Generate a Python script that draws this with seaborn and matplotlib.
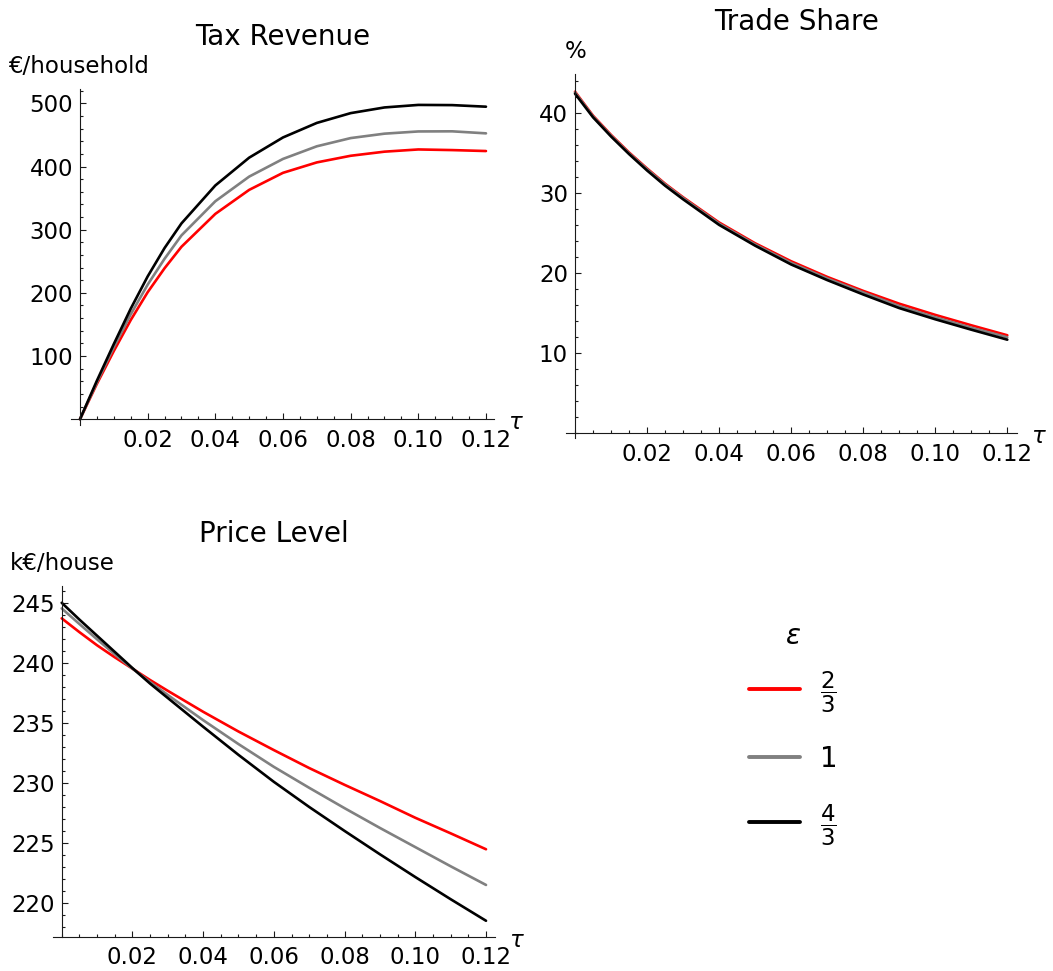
import numpy as np
import pandas as pd
import matplotlib
matplotlib.use("Agg")
import matplotlib.pyplot as plt
from matplotlib.lines import Line2D
from matplotlib.ticker import FixedLocator, MultipleLocator
import seaborn as sns

# Import tariff rate (shared by all panels)
tau = [0.0, 0.005, 0.01, 0.015, 0.02, 0.025, 0.03, 0.04, 0.05, 0.06,
       0.07, 0.08, 0.09, 0.10, 0.11, 0.12]

# Elasticity cases
eps_labels = ["2/3", "1", "4/3"]
eps_tex = [r"$\dfrac{2}{3}$", "1", r"$\dfrac{4}{3}$"]
eps_colors = ["#ff0000", "#808080", "#000000"]

# Tax revenue, EUR per household
revenue_23 = [0, 56, 108, 157, 201, 239, 273, 325, 363, 390,
              406.5, 417, 423.5, 427, 426, 424.5]
revenue_1 = [0, 58.5, 114, 166, 213, 254, 291, 345, 384, 412,
             432, 445, 452, 455.5, 455.7, 452.5]
revenue_43 = [0, 61, 119, 175, 226, 271, 310, 370, 414, 446,
              469, 484.5, 493.5, 497.5, 497.2, 494.7]

# Trade share, percent
trade_23 = [42.7, 39.7, 37.3, 35.1, 33.1, 31.2, 29.5, 26.35, 23.75, 21.5,
            19.55, 17.8, 16.2, 14.8, 13.5, 12.25]
trade_1 = [42.6, 39.6, 37.2, 35.0, 33.0, 31.1, 29.4, 26.2, 23.6, 21.3,
           19.35, 17.6, 15.9, 14.5, 13.2, 12.0]
trade_43 = [42.45, 39.5, 37.1, 34.9, 32.85, 30.95, 29.25, 26.05, 23.45, 21.1,
            19.15, 17.35, 15.65, 14.25, 12.95, 11.7]

# House price level, kEUR per house
price_23 = [243.75, 242.6, 241.5, 240.5, 239.55, 238.6, 237.7, 235.95,
            234.3, 232.75, 231.25, 229.85, 228.5, 227.1, 225.8, 224.47]
price_1 = [244.58, 243.28, 242.0, 240.75, 239.55, 238.43, 237.35, 235.25,
           233.25, 231.35, 229.6, 227.9, 226.25, 224.65, 223.05, 221.49]
price_43 = [245.05, 243.65, 242.3, 240.95, 239.6, 238.3, 237.1, 234.7,
            232.35, 230.1, 228.0, 226.0, 224.05, 222.15, 220.3, 218.5]

x_major = [0.02, 0.04, 0.06, 0.08, 0.10, 0.12]
x_major_labels = ["0.02", "0.04", "0.06", "0.08", "0.10", "0.12"]

sns.set_style("white")
plt.rcParams["font.family"] = ["DejaVu Sans"]
plt.rcParams["mathtext.fontset"] = "dejavusans"
for key in ("text.color", "axes.labelcolor", "xtick.color", "ytick.color",
            "axes.edgecolor"):
    plt.rcParams[key] = "black"

W, H = 1053, 971
fig = plt.figure(figsize=(W / 100, H / 100), dpi=100)


def px_rect(left, top, right, bottom):
    return [left / W, 1 - bottom / H, (right - left) / W, (bottom - top) / H]


def long_form(series):
    frames = [pd.DataFrame({"tau": tau, "value": vals, "eps": lab})
              for lab, vals in zip(eps_labels, series)]
    return pd.concat(frames, ignore_index=True)


palette = dict(zip(eps_labels, eps_colors))


def draw_panel(rect, series, xlim, ylim, y_major, y_minor, cross_y,
               title, title_x=0.5):
    ax = fig.add_axes(rect)
    sns.lineplot(data=long_form(series), x="tau", y="value", hue="eps",
                 hue_order=eps_labels, palette=palette, linewidth=1.9,
                 estimator=None, legend=False, ax=ax)
    ax.set_xlim(*xlim)
    ax.set_ylim(*ylim)
    ax.set_xlabel("")
    ax.set_ylabel("")
    for side in ("top", "right"):
        ax.spines[side].set_visible(False)
    ax.spines["left"].set_position(("data", 0))
    ax.spines["bottom"].set_position(("data", cross_y))
    for side in ("left", "bottom"):
        ax.spines[side].set_color("#1a1a1a")
        ax.spines[side].set_linewidth(0.8)
    ax.xaxis.set_major_locator(FixedLocator(x_major))
    ax.set_xticklabels(x_major_labels)
    ax.xaxis.set_minor_locator(MultipleLocator(0.005))
    ax.yaxis.set_major_locator(FixedLocator(y_major))
    ax.set_yticklabels([f"{v:g}" for v in y_major])
    ax.yaxis.set_minor_locator(MultipleLocator(y_minor))
    ax.tick_params(which="both", direction="in", color="#1a1a1a",
                   bottom=True, left=True, top=False, right=False,
                   width=0.8, labelsize=16.5, labelcolor="black")
    ax.tick_params(which="major", length=4.5)
    ax.tick_params(which="minor", length=2.5)
    ax.tick_params(axis="x", pad=7)
    ax.tick_params(axis="y", pad=5)
    ax.set_title(title, fontsize=20, pad=31.5, x=title_x, color="black")
    ax.annotate(r"$\tau$", xy=(1, cross_y), xycoords=ax.get_yaxis_transform(),
                xytext=(10, -2.5), textcoords="offset points",
                ha="left", va="center", fontsize=16.5)
    return ax


draw_panel(px_rect(71, 89, 494, 425),
           [revenue_23, revenue_1, revenue_43],
           (-0.00266, 0.12237), (-9.2, 522.7),
           [100, 200, 300, 400, 500], 20, 0, "Tax Revenue")

draw_panel(px_rect(566, 74, 1016.7, 438),
           [trade_23, trade_1, trade_43],
           (-0.0025, 0.12261), (-0.59, 44.91),
           [10, 20, 30, 40], 2, 0, "Trade Share", title_x=0.5125)

draw_panel(px_rect(52.7, 586, 495, 936.7),
           [price_23, price_1, price_43],
           (-0.002545, 0.12254), (217.17, 246.45),
           [220, 225, 230, 235, 240, 245], 1, 217.17, "Price Level")

# Axis unit labels
fig.text(8 / W, 1 - 73 / H, "€/household", ha="left", va="baseline",
         fontsize=16.5)
fig.text(576 / W, 1 - 58 / H, "%", ha="center", va="baseline",
         fontsize=16.5)
fig.text(10 / W, 1 - 570 / H, "k€/house", ha="left", va="baseline",
         fontsize=16.5)

# Legend for the elasticity cases
handles = [Line2D([], [], color=c, lw=2.8) for c in eps_colors]
leg = fig.legend(handles, eps_tex, title=r"$\varepsilon$",
                 loc="upper left", bbox_to_anchor=(749 / W, 1 - 622 / H),
                 frameon=False, fontsize=20, title_fontsize=20,
                 handlelength=1.85, handletextpad=0.7, labelspacing=1.08,
                 borderpad=0, borderaxespad=0)
leg._legend_box.sep = 14
for txt, lab in zip(leg.get_texts(), eps_tex):
    if "frac" in lab:
        txt.set_fontsize(16.5)

fig.savefig("out.png", dpi=100)
